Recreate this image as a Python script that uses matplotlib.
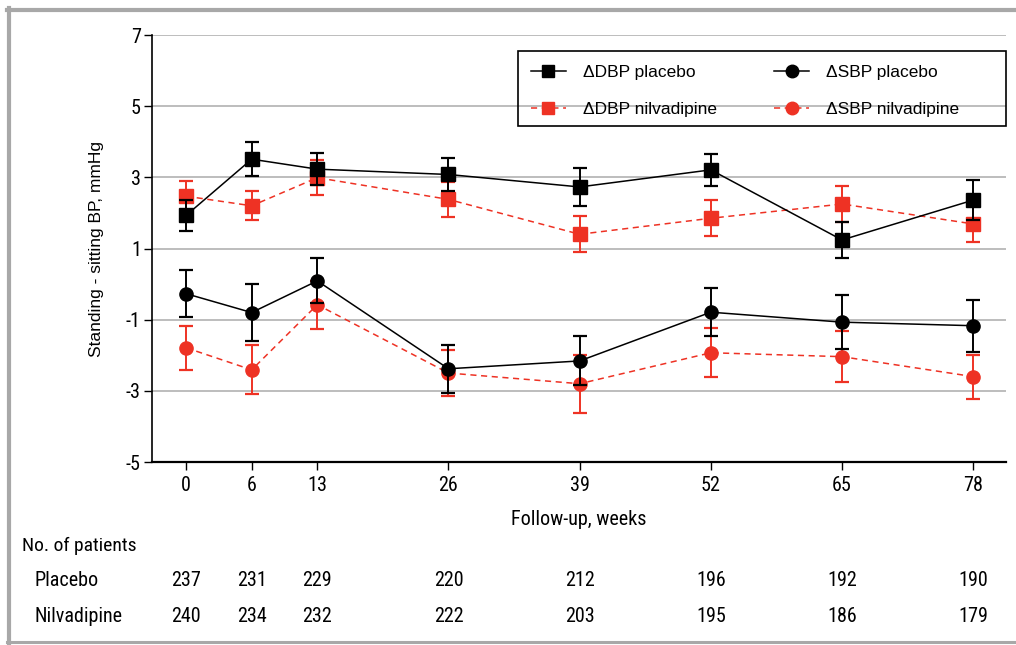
import matplotlib
matplotlib.use("Agg")
import matplotlib.pyplot as plt
import matplotlib.transforms as mtransforms
from matplotlib.lines import Line2D
from matplotlib.patches import Rectangle

# follow-up visits (weeks) and the slot each one takes on the axis
weeks = [0, 6, 13, 26, 39, 52, 65, 78]
slots = [0, 1, 2, 4, 6, 8, 10, 12]

# standing - sitting BP change, mean and error
dbp_placebo = [1.93, 3.51, 3.23, 3.08, 2.73, 3.21, 1.24, 2.36]
dbp_placebo_err = [0.43, 0.47, 0.44, 0.46, 0.53, 0.45, 0.50, 0.56]
dbp_nilv = [2.47, 2.20, 2.99, 2.38, 1.40, 1.85, 2.25, 1.69]
dbp_nilv_err = [0.43, 0.41, 0.50, 0.49, 0.51, 0.50, 0.50, 0.51]
sbp_placebo = [-0.27, -0.80, 0.09, -2.38, -2.16, -0.79, -1.07, -1.17]
sbp_placebo_err = [0.66, 0.80, 0.63, 0.68, 0.69, 0.67, 0.76, 0.73]
sbp_nilv = [-1.79, -2.41, -0.58, -2.50, -2.80, -1.93, -2.04, -2.60]
sbp_nilv_err = [0.62, 0.69, 0.68, 0.64, 0.81, 0.69, 0.72, 0.62]

# patients at each visit
n_placebo = [237, 231, 229, 220, 212, 196, 192, 190]
n_nilv = [240, 234, 232, 222, 203, 195, 186, 179]

yticks = [-5, -3, -1, 1, 3, 5, 7]

narrow = ['Roboto Condensed', 'Liberation Sans']
regular = ['Liberation Sans', 'DejaVu Sans']

RED = '#EE3224'
DASH = (0, (4, 3))
W, H = 1016, 645

fig = plt.figure(figsize=(W / 100, H / 100), dpi=100)
ax = fig.add_axes([152 / W, 183 / H, 854 / W, 427 / H])

for y in yticks[1:]:
    ax.axhline(y, color='#b8b8b8', lw=1.3, zorder=0)

err_kw = dict(capsize=4.8, capthick=1.6, elinewidth=1.4, ms=9.5)
ax.errorbar(slots, dbp_nilv, yerr=dbp_nilv_err, color=RED, lw=1.1, ls=DASH,
            marker='s', zorder=3, **err_kw)
ax.errorbar(slots, sbp_nilv, yerr=sbp_nilv_err, color=RED, lw=1.1, ls=DASH,
            marker='o', zorder=3, **err_kw)
ax.errorbar(slots, dbp_placebo, yerr=dbp_placebo_err, color='black', lw=1.1, ls='-',
            marker='s', zorder=4, **err_kw)
ax.errorbar(slots, sbp_placebo, yerr=sbp_placebo_err, color='black', lw=1.1, ls='-',
            marker='o', zorder=4, **err_kw)

ax.set_xlim(-0.52, 12.5)
ax.set_ylim(-5, 7)
ax.set_yticks(yticks)
ax.set_yticklabels([str(v) for v in yticks], family=narrow, fontsize=14.5)
ax.set_xticks(slots)
ax.set_xticklabels([str(w) for w in weeks], family=narrow, fontsize=14.5)
ax.tick_params(axis='both', direction='out', length=6, width=1.0, color='black')
ax.tick_params(axis='y', pad=2)
ax.tick_params(axis='x', pad=4)
for side in ('top', 'right'):
    ax.spines[side].set_visible(False)
ax.spines['left'].set_linewidth(1.2)
ax.spines['bottom'].set_linewidth(1.6)

ax.set_xlabel('Follow-up, weeks', family=narrow, fontsize=14.5, labelpad=11)
ax.set_ylabel('Standing - sitting BP, mmHg', family=regular, fontsize=12.5, labelpad=16)

# legend keys: line plus marker only
keys = [
    Line2D([], [], color='black', lw=1.1, marker='s', ms=9),
    Line2D([], [], color=RED, lw=1.1, ls=DASH, marker='s', ms=9),
    Line2D([], [], color='black', lw=1.1, marker='o', ms=9),
    Line2D([], [], color=RED, lw=1.1, ls=DASH, marker='o', ms=9),
]
key_labels = ['\u0394DBP placebo', '\u0394DBP nilvadipine',
              '\u0394SBP placebo', '\u0394SBP nilvadipine']
leg = ax.legend(keys, key_labels, ncol=2, frameon=False,
                loc='upper left', bbox_to_anchor=(531 / W, 1 - 65 / H),
                bbox_transform=fig.transFigure, borderaxespad=0, borderpad=0,
                prop={'family': regular, 'size': 12.5}, handlelength=2.0,
                handletextpad=1.0, columnspacing=3.3, labelspacing=1.27)
# legend box, wider than its entries
fig.add_artist(Rectangle((518 / W, 1 - 126 / H), 488 / W, 75 / H,
                         transform=fig.transFigure, fill=False,
                         edgecolor='black', lw=1.2, zorder=5))

# number-of-patients table under the axis
row_tr = mtransforms.blended_transform_factory(ax.transData, fig.transFigure)
fig.text(22 / W, 1 - 546 / H, 'No. of patients', family=narrow, fontsize=14,
         ha='left', va='center')
for label, counts, ypix in (('Placebo', n_placebo, 580), ('Nilvadipine', n_nilv, 617)):
    yf = 1 - ypix / H
    fig.text(35 / W, yf, label, family=narrow, fontsize=14.5, ha='left', va='center')
    for s, n in zip(slots, counts):
        ax.text(s, yf, str(n), transform=row_tr, family=narrow, fontsize=14.5,
                ha='center', va='center', clip_on=False)

# grey frame round the figure
frame = '#a8a8a8'
fig.add_artist(Line2D([7 / W, 1], [1 - 10 / H] * 2, transform=fig.transFigure,
                      color=frame, lw=3))
fig.add_artist(Line2D([9 / W] * 2, [0, 1 - 8 / H], transform=fig.transFigure,
                      color=frame, lw=3))
fig.add_artist(Line2D([7 / W, 1], [1 - 642 / H] * 2, transform=fig.transFigure,
                      color=frame, lw=2.2))

fig.savefig('out.png', dpi=100)
